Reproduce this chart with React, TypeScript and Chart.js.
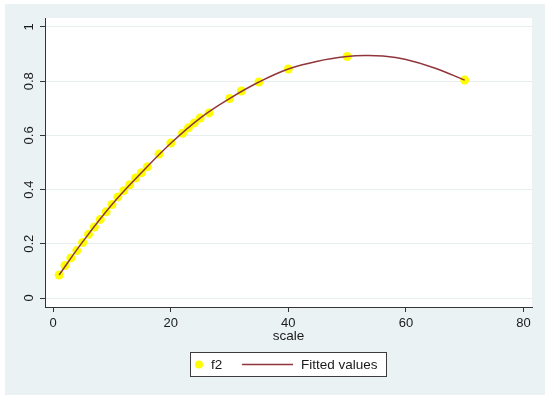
import React, { useEffect, useRef } from "react";
import { Chart, registerables } from "chart.js";

Chart.register(...registerables);

// Observed values (f2)
const scaleX = [1, 2, 3, 4, 5, 6, 7, 8, 9, 10, 11, 12, 13, 14, 15, 16, 18, 20, 22, 23, 24, 25, 26.5, 30, 32, 35, 40, 50, 70];
const f2Values = [0.085, 0.12, 0.148, 0.175, 0.205, 0.235, 0.262, 0.29, 0.318, 0.345, 0.373, 0.396, 0.418, 0.443, 0.462, 0.484, 0.531, 0.572, 0.608, 0.628, 0.646, 0.664, 0.683, 0.736, 0.764, 0.797, 0.845, 0.891, 0.804];

// Fitted values
const fitX = [1, 5, 10, 15, 20, 25, 30, 35, 40, 45, 50, 53, 56, 60, 65, 70];
const fitValues = [0.085, 0.207, 0.345, 0.462, 0.571, 0.664, 0.736, 0.797, 0.845, 0.874, 0.891, 0.895, 0.893, 0.88, 0.848, 0.804];

const xTickValues = [0, 20, 40, 60, 80];
const xTickLabels = ["0", "20", "40", "60", "80"];
const yTickValues = [0, 0.2, 0.4, 0.6, 0.8, 1];
const yTickLabels = ["0", "0.2", "0.4", "0.6", "0.8", "1"];

const seriesLabels = ["f2", "Fitted values"];
const xTitle = "scale";

const FONT = "'Liberation Sans', Arial, Helvetica, sans-serif";
const OUTER_BG = "#EAF2F3";
const LINE_COLOR = "#90353B";
const MARKER_COLOR = "#FFFF00";

const bgPlugin = {
  id: "stataBg",
  beforeDraw(chart: any) {
    const { ctx, chartArea } = chart;
    ctx.save();
    ctx.fillStyle = "#ffffff";
    ctx.fillRect(0, 0, chart.width, chart.height);
    ctx.fillStyle = OUTER_BG;
    ctx.fillRect(5, 4, 540, 391);
    ctx.fillStyle = "#ffffff";
    ctx.fillRect(chartArea.left, chartArea.top, chartArea.right - chartArea.left, chartArea.bottom - chartArea.top);
    ctx.restore();
  },
  afterDraw(chart: any) {
    const { ctx } = chart;
    const ys = chart.scales.y;
    ctx.save();
    // rotated y tick labels
    ctx.font = `13px ${FONT}`;
    ctx.fillStyle = "#1a1a1a";
    ctx.textAlign = "center";
    ctx.textBaseline = "middle";
    yTickValues.forEach((v, i) => {
      const py = ys.getPixelForValue(v);
      ctx.save();
      ctx.translate(29, py);
      ctx.rotate(-Math.PI / 2);
      ctx.fillText(yTickLabels[i], 0, 0);
      ctx.restore();
    });
    // legend box
    const bx = 190.5, by = 352.5, bw = 196, bh = 24;
    ctx.fillStyle = "#ffffff";
    ctx.fillRect(bx, by, bw, bh);
    ctx.strokeStyle = "#3c3c3c";
    ctx.lineWidth = 1;
    ctx.strokeRect(bx, by, bw, bh);
    const cy = by + bh / 2;
    ctx.fillStyle = MARKER_COLOR;
    ctx.beginPath();
    ctx.arc(199, cy, 4, 0, Math.PI * 2);
    ctx.fill();
    ctx.font = `13.5px ${FONT}`;
    ctx.fillStyle = "#1a1a1a";
    ctx.textAlign = "left";
    ctx.textBaseline = "middle";
    ctx.fillText(seriesLabels[0], 211, cy + 0.5);
    ctx.strokeStyle = LINE_COLOR;
    ctx.lineWidth = 1.5;
    ctx.beginPath();
    ctx.moveTo(242, cy);
    ctx.lineTo(293, cy);
    ctx.stroke();
    ctx.fillText(seriesLabels[1], 301, cy + 0.5);
    ctx.restore();
  },
};

export default function App() {
  const ref = useRef<HTMLCanvasElement | null>(null);

  useEffect(() => {
    document.body.style.margin = "0";
    const canvas = ref.current;
    if (!canvas) return;
    const chart = new Chart(canvas, {
      type: "scatter",
      data: {
        datasets: [
          {
            type: "line",
            label: seriesLabels[1],
            data: fitX.map((x, i) => ({ x, y: fitValues[i] })),
            borderColor: LINE_COLOR,
            borderWidth: 1.5,
            pointRadius: 0,
            fill: false,
            tension: 0.4,
            order: 0,
          } as any,
          {
            type: "scatter",
            label: seriesLabels[0],
            data: scaleX.map((x, i) => ({ x, y: f2Values[i] })),
            backgroundColor: MARKER_COLOR,
            borderWidth: 0,
            pointRadius: 4.5,
            order: 1,
          },
        ],
      },
      options: {
        responsive: false,
        animation: false,
        devicePixelRatio: 1,
        layout: { padding: { left: 0, right: 18, top: 18, bottom: 56 } },
        plugins: {
          legend: { display: false },
          tooltip: { enabled: false },
        },
        scales: {
          x: {
            type: "linear",
            min: -1.4,
            max: 81.45,
            afterBuildTicks: (scale: any) => {
              scale.ticks = xTickValues.map((v) => ({ value: v }));
            },
            afterFit: (scale: any) => {
              scale.height = 37;
            },
            ticks: {
              autoSkip: false,
              maxRotation: 0,
              minRotation: 0,
              padding: 4,
              color: "#1a1a1a",
              font: { family: FONT, size: 13 },
              callback: (v: any) => {
                const i = xTickValues.indexOf(Number(v));
                return i >= 0 ? xTickLabels[i] : "";
              },
            },
            grid: {
              drawOnChartArea: false,
              drawTicks: true,
              tickLength: 5,
              tickColor: "#333333",
            },
            border: { display: true, color: "#333333", width: 1 },
            title: {
              display: true,
              text: xTitle,
              color: "#1a1a1a",
              font: { family: FONT, size: 13.5 },
              padding: { top: 0, bottom: 0 },
            },
          },
          y: {
            type: "linear",
            min: -0.0332,
            max: 1.0332,
            afterBuildTicks: (scale: any) => {
              scale.ticks = yTickValues.map((v) => ({ value: v }));
            },
            afterFit: (scale: any) => {
              scale.width = 45;
            },
            ticks: { display: false },
            grid: {
              drawOnChartArea: true,
              drawTicks: true,
              tickLength: 5,
              color: "#E6EEEF",
              tickColor: "#333333",
              lineWidth: 1,
            },
            border: { display: true, color: "#333333", width: 1 },
          },
        },
      },
      plugins: [bgPlugin],
    } as any);
    return () => chart.destroy();
  }, []);

  return (
    <div style={{ position: "absolute", left: 0, top: 0, width: 550, height: 400 }}>
      <canvas ref={ref} width={550} height={400} style={{ display: "block", width: 550, height: 400 }} />
    </div>
  );
}
